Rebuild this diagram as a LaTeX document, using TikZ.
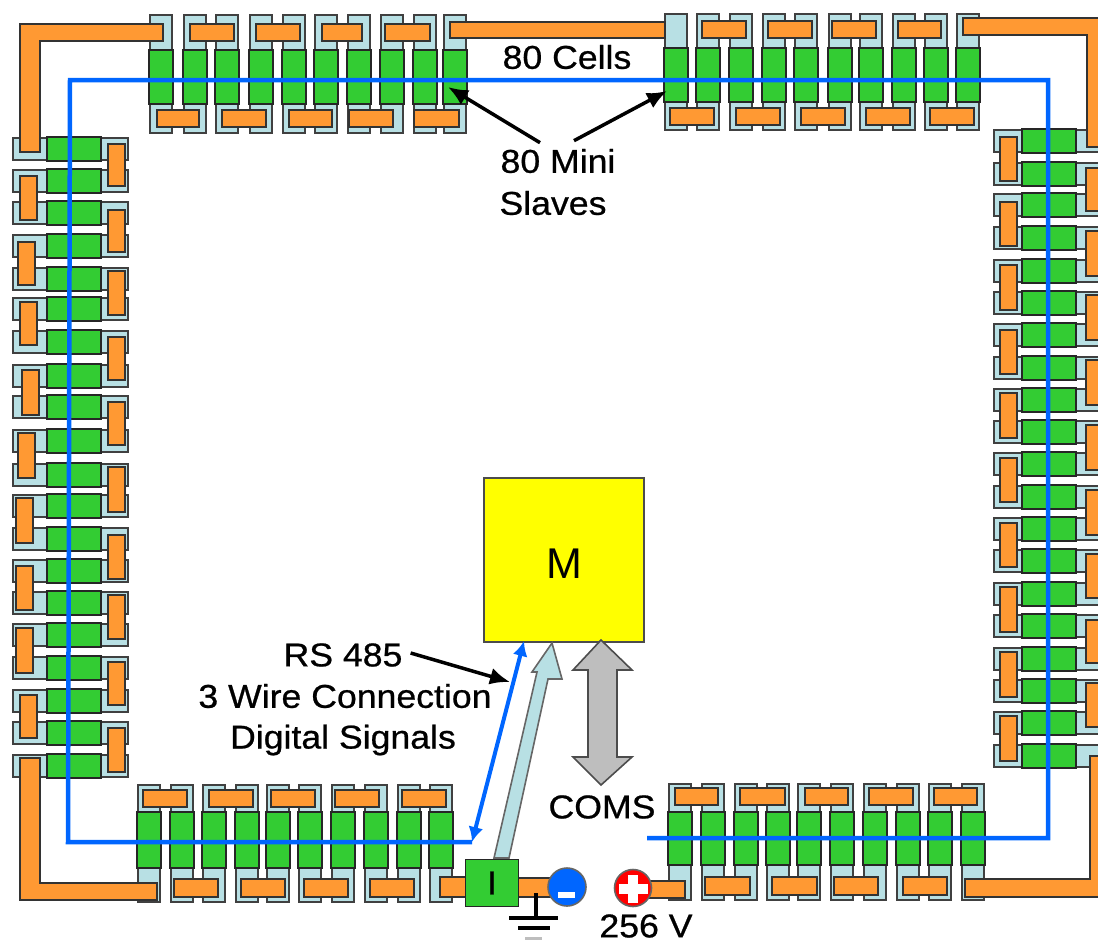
\documentclass[tikz,border=0pt]{standalone}
\usepackage{fontspec}
\setmainfont{Liberation Sans}
\newfontfamily\capfont[FakeStretch=1.08,FakeBold=0.7]{Liberation Sans}
\usetikzlibrary{arrows.meta, positioning}
\definecolor{linkorange}{RGB}{255,153,51}
\definecolor{cellgreen}{RGB}{51,204,51}
\definecolor{capblue}{RGB}{184,224,228}
\definecolor{wireblue}{RGB}{0,102,255}
\definecolor{coregray}{RGB}{190,190,190}
\definecolor{masteryellow}{RGB}{255,255,0}
\definecolor{plusred}{RGB}{255,0,0}
\tikzset{
  capbox/.style={draw=black!75, line width=1.6pt, fill=capblue},
  greenbox/.style={draw=black!85, line width=1.6pt, fill=cellgreen},
  linkbar/.style={draw=black!80, line width=1.6pt, fill=linkorange},
  wire/.style={wireblue, line width=4.5pt},
  pointer/.style={black, line width=3.5pt, -{Latex[length=20pt,width=17pt]}},
  caption/.style={font=\capfont\fontsize{33}{35}\selectfont, text=black, inner sep=0pt}
}
% x, top, green top, green bottom, bottom
\newcommand{\vcell}[5]{
  \draw[capbox] (#1,#2) rectangle (#1+22,#5);
  \draw[greenbox] (#1-1,#3) rectangle (#1+23,#4);
}
% y, left, green left, green right, right
\newcommand{\hcell}[5]{
  \draw[capbox] (#2,#1) rectangle (#5,#1+22);
  \draw[greenbox] (#3,#1-1) rectangle (#4,#1+23);
}
\begin{document}
\begin{tikzpicture}[x=1pt,y=-1pt]
    \useasboundingbox (0,0) rectangle (1098,940);

    % Top rows of cells
    \foreach \xa in {150,184,216,250,283,315,348,381,414,444}
        {\vcell{\xa}{15}{50}{104}{133}}
    \foreach \xa in {665,697,730,763,795,829,860,893,925,957}
        {\vcell{\xa}{14}{48}{102}{130}}

    % Bottom rows of cells
    \foreach \xa in {138,171,203,236,267,299,332,365,398,430}
        {\vcell{\xa}{785}{812}{868}{902}}
    \foreach \xa in {669,702,735,767,798,831,864,897,929,962}
        {\vcell{\xa}{784}{812}{865}{900}}

    % Left and right columns of cells
    \foreach \ya in {138,170,202,235,268,298,331,365,396,430,464,495,528,560,592,624,657,690,722,755}
        {\hcell{\ya}{13}{47}{101}{128}}
    \foreach \ya in {130,163,194,227,260,292,324,357,389,421,453,486,518,550,583,615,648,680,712,745}
        {\hcell{\ya}{994}{1022}{1076}{1110}}

    % Links across the top
    \foreach \xa/\xb in {190/234,256/300,322/362,385/430}
        {\draw[linkbar] (\xa,24) rectangle (\xb,41);}
    \foreach \xa/\xb in {702/746,768/812,832/876,898/941}
        {\draw[linkbar] (\xa,21) rectangle (\xb,38);}
    \draw[linkbar] (450,22) rectangle (665,38);
    \foreach \xa/\xb in {157/199,222/266,289/332,349/393,414/459}
        {\draw[linkbar] (\xa,110) rectangle (\xb,127);}
    \foreach \xa/\xb in {670/714,736/780,801/845,866/910,930/974}
        {\draw[linkbar] (\xa,108) rectangle (\xb,125);}

    % Links across the bottom
    \foreach \xa/\xb in {143/187,209/253,271/315,335/379,402/446}
        {\draw[linkbar] (\xa,790) rectangle (\xb,807);}
    \foreach \xa/\xb in {675/718,740/785,805/848,869/913,934/977}
        {\draw[linkbar] (\xa,788) rectangle (\xb,805);}
    \foreach \xa/\xb in {174/218,241/285,304/348,370/414}
        {\draw[linkbar] (\xa,879) rectangle (\xb,897);}
    \foreach \xa/\xb in {705/750,772/817,834/878,903/947}
        {\draw[linkbar] (\xa,877) rectangle (\xb,895);}

    % Links down the sides
    \foreach \ya/\yb/\xa in {176/220/20,242/285/18,302/345/20,370/415/22,433/478/18,498/543/16,566/610/16,628/673/16,695/738/20}
        {\draw[linkbar] (\xa,\ya) rectangle (\xa+17,\yb);}
    \foreach \ya/\yb in {144/186,210/252,271/315,337/380,402/445,467/512,535/579,595/639,662/705,728/772}
        {\draw[linkbar] (108,\ya) rectangle (125,\yb);}
    \foreach \ya/\yb in {137/181,202/246,265/310,330/374,393/438,458/502,523/567,587/632,652/697,716/761}
        {\draw[linkbar] (1000,\ya) rectangle (1017,\yb);}
    \foreach \ya/\yb in {168/211,231/276,295/340,360/405,425/470,490/535,554/598,620/663,683/727}
        {\draw[linkbar] (1086,\ya) rectangle (1110,\yb);}

    % Corners
    \draw[linkbar] (20,152) -- (20,24) -- (163,24) -- (163,41) -- (40,41) -- (40,152) -- cycle;
    \draw[linkbar] (20,758) -- (20,900) -- (157,900) -- (157,883) -- (40,883) -- (40,758) -- cycle;
    \draw[linkbar] (963,18) -- (1110,18) -- (1110,147) -- (1087,147) -- (1087,35) -- (963,35) -- cycle;
    \draw[linkbar] (965,879) -- (1090,879) -- (1090,756) -- (1110,756) -- (1110,897) -- (965,897) -- cycle;

    % Supply at the bottom
    \draw[linkbar] (440,877) rectangle (470,897);
    \draw[linkbar] (510,878) rectangle (552,897);
    \draw[linkbar] (645,881) rectangle (685,898);
    \draw[black, line width=3.5pt] (536,893) -- (536,917);
    \draw[black, line width=4pt] (509,918) -- (558,918);
    \draw[black, line width=4pt] (518,928) -- (550,928);
    \draw[coregray, line width=3pt] (525,938) -- (542,938);
    \node[draw=black!85, line width=1.6pt, fill=cellgreen, minimum width=53pt, minimum height=47pt, inner sep=0pt,
          font=\capfont\fontsize{33}{35}\selectfont] (iface) at (492,883) {I};
    \node[circle, draw=black!60, line width=1.6pt, fill=wireblue, minimum size=38pt, inner sep=0pt] (minus) at (567,887) {};
    \fill[white] (558,892) rectangle (575,898);
    \node[circle, draw=black!60, line width=1.6pt, fill=plusred, minimum size=37pt, inner sep=0pt] (plus) at (633,888) {};
    \fill[white] (628,875) rectangle (638,903);
    \fill[white] (619,884) rectangle (648,894);

    % Master
    \node[draw=black!70, line width=1.6pt, fill=masteryellow, minimum width=160pt, minimum height=164pt, inner sep=0pt,
          font=\fontsize{43}{45}\selectfont] (master) at (564,560) {\raisebox{-4pt}[\height][0pt]{M}};

    % Block arrows
    \draw[draw=black!60, line width=1.6pt, fill=capblue] (552,643) -- (532,672) -- (537,672) -- (494,858)
        -- (509,858) -- (548,679) -- (562,679) -- cycle;
    \draw[draw=black!70, line width=1.6pt, fill=coregray] (601,640) -- (632,670) -- (617,670) -- (617,757)
        -- (632,757) -- (601,785) -- (573,757) -- (588,757) -- (588,670) -- (573,670) -- cycle;

    % Wire loop
    \coordinate (wirestart) at (68,842);
    \coordinate (wireend) at (472,842);
    \draw[wire] (wireend) -- (wirestart) -- (70,80) -- (1048,80) -- (1048,838) -- (647,838);
    \coordinate (wiretip) at (524,641);
    \draw[wire, line width=4pt, {Latex[length=15pt,width=15pt]}-{Latex[length=15pt,width=15pt]}] (wireend) -- (wiretip);

    % Labels
    \node[caption] (cellslabel) at (567,57) {80 Cells};
    \node[caption] (minilabel) at (558,161) {80 Mini};
    \node[caption] (slaveslabel) at (553,203) {Slaves};
    \node[caption] (rslabel) at (343,655) {RS 485};
    \node[caption] (wirelabel) at (345,696) {3 Wire Connection};
    \node[caption] (digitallabel) at (343,740) {Digital Signals};
    \node[caption] (comslabel) at (602,807) {COMS};
    \node[caption] (voltlabel) at (646,926) {256 V};

    % Pointers
    \coordinate (lefttarget) at (448,87);
    \coordinate (righttarget) at (667,91);
    \coordinate (wiretarget) at (510,682);
    \draw[pointer] (minilabel.north) ++(-18,-6) -- (lefttarget);
    \draw[pointer] (minilabel.north) ++(16,-8) -- (righttarget);
    \draw[pointer] (rslabel.east) ++(8,-2) -- (wiretarget);
\end{tikzpicture}
\end{document}
